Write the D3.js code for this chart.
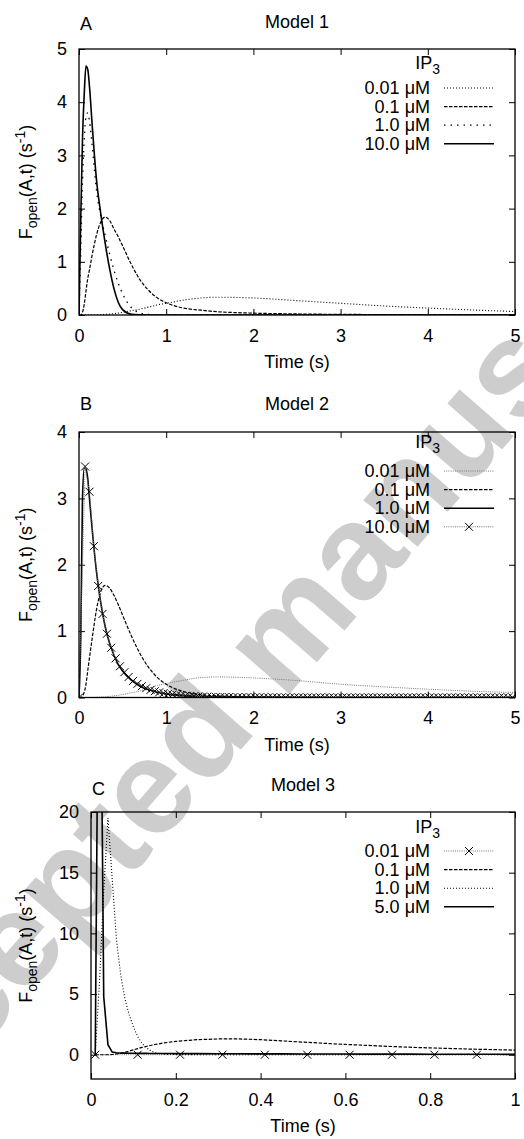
<!DOCTYPE html>
<html>
<head>
<meta charset="utf-8">
<script src="https://cdn.jsdelivr.net/npm/d3@7"></script>
<style>
  body { margin: 0; background: #fff; }
  svg { display: block; font-family: "Liberation Sans", Arial, Helvetica, sans-serif; }
</style>
</head>
<body>
<div id="chart"></div>
<script>
// ---- Data ----
// Model 1 and Model 2 share one time grid (s)
const timeAB = [0, 0.02, 0.04, 0.06, 0.08, 0.1, 0.12, 0.15, 0.2, 0.25, 0.3, 0.35, 0.4, 0.45, 0.5,
    0.6, 0.7, 0.8, 0.9, 1.0, 1.2, 1.4, 1.6, 1.8, 2.0, 2.5, 3.0, 3.5, 4.0, 4.5, 5.0]

// Model 1
const m1_001 = [0, 0, 0, 0, 0, 0, 0, 0, 0.002, 0.005, 0.01, 0.017, 0.025, 0.036, 0.05,
    0.08, 0.11, 0.15, 0.19, 0.22, 0.28, 0.32, 0.335, 0.33, 0.32, 0.27, 0.22, 0.17, 0.13, 0.095, 0.065]
const m1_01 = [0, 0, 0.05, 0.2, 0.45, 0.68, 0.85, 1.12, 1.5, 1.75, 1.84, 1.78, 1.62, 1.47, 1.3,
    0.95, 0.66, 0.46, 0.32, 0.23, 0.13, 0.09, 0.06, 0.045, 0.035, 0.02, 0.012, 0.008, 0.005, 0.003, 0.002]
const m1_1 = [0, 1.2, 2.5, 3.3, 3.72, 3.8, 3.65, 3.2, 2.35, 1.85, 1.5, 1.15, 0.85, 0.6, 0.4,
    0.14, 0.04, 0.01, 0.002, 0, 0, 0, 0, 0, 0, 0, 0, 0, 0, 0, 0]
const m1_10 = [0, 1.8, 3.3, 4.15, 4.68, 4.62, 4.3, 3.6, 2.55, 1.9, 1.35, 0.88, 0.5, 0.24, 0.1,
    0.015, 0.003, 0, 0, 0, 0, 0, 0, 0, 0, 0, 0, 0, 0, 0, 0]

// Model 2
const m2_001 = [0, 0, 0, 0, 0, 0, 0, 0, 0.003, 0.006, 0.01, 0.017, 0.025, 0.034, 0.045,
    0.07, 0.1, 0.14, 0.18, 0.21, 0.26, 0.3, 0.31, 0.305, 0.295, 0.255, 0.2, 0.16, 0.125, 0.095, 0.075]
const m2_01 = [0, 0, 0.02, 0.08, 0.2, 0.4, 0.6, 0.88, 1.32, 1.6, 1.69, 1.65, 1.54, 1.4, 1.24,
    0.93, 0.66, 0.45, 0.3, 0.2, 0.09, 0.042, 0.022, 0.012, 0.007, 0.002, 0, 0, 0, 0, 0]
const m2_1 = [0, 0.9, 3.0, 3.45, 3.45, 3.3, 3.0, 2.55, 1.9, 1.42, 1.07, 0.82, 0.64, 0.5, 0.4,
    0.26, 0.17, 0.115, 0.08, 0.055, 0.028, 0.015, 0.008, 0.005, 0.003, 0.001, 0, 0, 0, 0, 0]
// 10 uM curve is drawn with a cross at every sample
const m2_10_time = [0, 0.07, 0.12, 0.17, 0.22, 0.27, 0.32, 0.37, 0.42, 0.47,
    0.52, 0.57, 0.62, 0.67, 0.72, 0.77, 0.82, 0.87, 0.92, 0.97,
    1.02, 1.07, 1.12, 1.17, 1.22, 1.27, 1.32, 1.37, 1.42, 1.47,
    1.52, 1.57, 1.62, 1.67, 1.72, 1.77, 1.82, 1.87, 1.92, 1.97,
    2.02, 2.07, 2.12, 2.17, 2.22, 2.27, 2.32, 2.37, 2.42, 2.47,
    2.52, 2.57, 2.62, 2.67, 2.72, 2.77, 2.82, 2.87, 2.92, 2.97,
    3.02, 3.07, 3.12, 3.17, 3.22, 3.27, 3.32, 3.37, 3.42, 3.47,
    3.52, 3.57, 3.62, 3.67, 3.72, 3.77, 3.82, 3.87, 3.92, 3.97,
    4.02, 4.07, 4.12, 4.17, 4.22, 4.27, 4.32, 4.37, 4.42, 4.47,
    4.52, 4.57, 4.62, 4.67, 4.72, 4.77, 4.82, 4.87, 4.92, 4.97]
const m2_10 = [0, 3.48, 3.10, 2.28, 1.68, 1.26, 0.96, 0.75, 0.59, 0.47,
    0.38, 0.31, 0.25, 0.205, 0.17, 0.14, 0.115, 0.095, 0.078, 0.065,
    0.054, 0.045, 0.037, 0.031, 0.026, 0.022, 0.018, 0.015, 0.013, 0.011,
    0.009, 0.008, 0.007, 0.006, 0.005, 0.004, 0.004, 0.003, 0.003, 0.002,
    0.002, 0.002, 0.001, 0.001, 0.001, 0.001, 0, 0, 0, 0,
    0, 0, 0, 0, 0, 0, 0, 0, 0, 0,
    0, 0, 0, 0, 0, 0, 0, 0, 0, 0,
    0, 0, 0, 0, 0, 0, 0, 0, 0, 0,
    0, 0, 0, 0, 0, 0, 0, 0, 0, 0,
    0, 0, 0, 0, 0, 0, 0, 0, 0, 0]

// Model 3
const timeC = [0.01, 0.02, 0.03, 0.04, 0.05, 0.06, 0.07, 0.08, 0.09, 0.1, 0.11, 0.12, 0.13, 0.14, 0.15,
    0.16, 0.17, 0.18, 0.19, 0.2, 0.25, 0.3, 0.35, 0.4, 0.45, 0.5, 0.55, 0.6, 0.65, 0.7, 0.75, 0.8,
    0.85, 0.9, 0.95, 1.0]
const m3_01 = [0, 0, 0, 0, 0.02, 0.06, 0.12, 0.2, 0.3, 0.4, 0.5, 0.6, 0.68, 0.76, 0.84,
    0.9, 0.96, 1.01, 1.06, 1.1, 1.24, 1.3, 1.3, 1.24, 1.14, 1.04, 0.94, 0.85, 0.77, 0.69, 0.62, 0.56,
    0.51, 0.46, 0.42, 0.38]
const m3_1 = [0, 6, 13.5, 19.5, 14.5, 9.5, 6.6, 4.6, 3.3, 2.3, 1.5, 0.95, 0.6, 0.35, 0.18,
    0.1, 0.06, 0.03, 0.02, 0.01, 0.005, 0, 0, 0, 0, 0, 0, 0, 0, 0, 0, 0,
    0, 0, 0, 0]
const m3_5 = [0, 45, 4.8, 0.82, 0.22, 0.16, 0.14, 0.13, 0.12, 0.12, 0.11, 0.11, 0.11, 0.1, 0.1,
    0.1, 0.1, 0.1, 0.1, 0.09, 0.09, 0.08, 0.08, 0.07, 0.07, 0.06, 0.06, 0.06, 0.05, 0.05, 0.05, 0.04,
    0.04, 0.04, 0.04, 0.03]
const m3_001_time = [0.01, 0.11, 0.21, 0.31, 0.41, 0.51, 0.61, 0.71, 0.81, 0.91]
const m3_001 = [0, 0, 0, 0, 0, 0, 0, 0, 0, 0]

// tick values
const xTicksAB = [0, 1, 2, 3, 4, 5]
const yTicksA = [0, 1, 2, 3, 4, 5]
const yTicksB = [0, 1, 2, 3, 4]
const xTicksC = [0, 0.2, 0.4, 0.6, 0.8, 1]
const yTicksC = [0, 5, 10, 15, 20]

// ---- Line styles (gnuplot-like) ----
const styles = {
    solid:     { stroke: "#000", width: 1.6, dash: null },
    dashed:    { stroke: "#000", width: 1.2, dash: "3.5,1.5" },
    fineDot:   { stroke: "#000", width: 1.1, dash: "1,2" },
    sparseDot: { stroke: "#000", width: 1.3, dash: "1.5,5" },
    greyDot:   { stroke: "#777", width: 1,   dash: "1,1.2" }
}

const zip = (t, v) => t.map((d, i) => [d, v[i]])

const panels = [
    {
        letter: "A", title: "Model 1",
        box: { l: 79, r: 515, t: 49, b: 315 },
        xDomain: [0, 5], yDomain: [0, 5], xTicks: xTicksAB, yTicks: yTicksA,
        titleY: 28, letterY: 30, ipY: 69, smooth: true,
        series: [
            { label: "0.01 μM", data: zip(timeAB, m1_001), style: "fineDot" },
            { label: "0.1 μM", data: zip(timeAB, m1_01), style: "dashed" },
            { label: "1.0 μM", data: zip(timeAB, m1_1), style: "sparseDot" },
            { label: "10.0 μM", data: zip(timeAB, m1_10), style: "solid" }
        ]
    },
    {
        letter: "B", title: "Model 2",
        box: { l: 79, r: 515, t: 432, b: 697.5 },
        xDomain: [0, 5], yDomain: [0, 4], xTicks: xTicksAB, yTicks: yTicksB,
        titleY: 410, letterY: 410, ipY: 448, smooth: true,
        series: [
            { label: "0.01 μM", data: zip(timeAB, m2_001), style: "greyDot" },
            { label: "0.1 μM", data: zip(timeAB, m2_01), style: "dashed" },
            { label: "1.0 μM", data: zip(timeAB, m2_1), style: "solid" },
            { label: "10.0 μM", data: zip(m2_10_time, m2_10), style: "greyDot", marks: true }
        ]
    },
    {
        letter: "C", title: "Model 3",
        box: { l: 91, r: 515, t: 812, b: 1079 },
        xDomain: [0, 1], yDomain: [-2, 20], xTicks: xTicksC, yTicks: yTicksC,
        titleY: 791, letterY: 795, ipY: 833, smooth: false,
        series: [
            { label: "0.01 μM", data: zip(m3_001_time, m3_001), style: "greyDot", marks: true },
            { label: "0.1 μM", data: zip(timeC, m3_01), style: "dashed" },
            { label: "1.0 μM", data: zip(timeC, m3_1), style: "fineDot" },
            { label: "5.0 μM", data: zip(timeC, m3_5), style: "solid" }
        ]
    }
]

const W = 524, H = 1139
const fontSize = 18

const svg = d3.select("#chart").append("svg")
    .attr("width", W)
    .attr("height", H)

// Watermark behind everything
svg.append("text")
    .attr("transform", "translate(-140,1188) rotate(-49)")
    .attr("font-size", 135)
    .attr("font-weight", "bold")
    .attr("fill", "#cdcdcd")
    .text("Accepted manuscript")

const crossPath = "M-4,-4L4,4M-4,4L4,-4"

function applyStyle(sel, s) {
    sel.attr("fill", "none")
        .attr("stroke", s.stroke)
        .attr("stroke-width", s.width)
        .attr("stroke-dasharray", s.dash)
}

panels.forEach((p, pi) => {
    const { l, r, t, b } = p.box
    const x = d3.scaleLinear().domain(p.xDomain).range([l, r])
    const y = d3.scaleLinear().domain(p.yDomain).range([b, t])

    const g = svg.append("g")

    // clip for curves
    const clipId = "clip" + pi
    g.append("clipPath").attr("id", clipId)
        .append("rect").attr("x", l).attr("y", t).attr("width", r - l).attr("height", b - t)

    // axes: inward ticks on all four sides
    const tickFmt = d => String(d)
    const styleAxis = a => {
        a.select(".domain").remove()
        a.attr("font-size", fontSize).attr("font-family", null)
        a.selectAll("line").attr("stroke", "#000").attr("stroke-width", 1)
        a.selectAll("text").attr("fill", "#000")
    }
    g.append("g").attr("transform", `translate(0,${b})`)
        .call(d3.axisBottom(x).tickValues(p.xTicks).tickFormat(tickFmt).tickSizeInner(-6).tickSizeOuter(0).tickPadding(14))
        .call(styleAxis)
    g.append("g").attr("transform", `translate(0,${t})`)
        .call(d3.axisTop(x).tickValues(p.xTicks).tickFormat("").tickSizeInner(-6).tickSizeOuter(0))
        .call(styleAxis)
    g.append("g").attr("transform", `translate(${l},0)`)
        .call(d3.axisLeft(y).tickValues(p.yTicks).tickFormat(tickFmt).tickSizeInner(-6).tickSizeOuter(0).tickPadding(12))
        .call(styleAxis)
    g.append("g").attr("transform", `translate(${r},0)`)
        .call(d3.axisRight(y).tickValues(p.yTicks).tickFormat("").tickSizeInner(-6).tickSizeOuter(0))
        .call(styleAxis)

    // curves
    const line = d3.line()
        .x(d => x(d[0]))
        .y(d => y(d[1]))
        .curve(p.smooth ? d3.curveMonotoneX : d3.curveLinear)
    const lineLin = d3.line().x(d => x(d[0])).y(d => y(d[1]))

    const plot = g.append("g").attr("clip-path", `url(#${clipId})`)
    p.series.forEach(s => {
        plot.append("path")
            .attr("d", s.marks ? lineLin(s.data) : line(s.data))
            .call(applyStyle, styles[s.style])
        if (s.marks) {
            plot.selectAll(null)
                .data(s.data)
                .enter()
                .append("path")
                .attr("d", crossPath)
                .attr("transform", d => `translate(${x(d[0])},${y(d[1])})`)
                .attr("fill", "none")
                .attr("stroke", "#000")
                .attr("stroke-width", 1)
        }
    })

    // frame
    g.append("rect")
        .attr("x", l).attr("y", t)
        .attr("width", r - l).attr("height", b - t)
        .attr("fill", "none")
        .attr("stroke", "#000")
        .attr("stroke-width", 1.3)

    // titles
    g.append("text")
        .attr("x", (l + r) / 2).attr("y", p.titleY)
        .attr("text-anchor", "middle")
        .attr("font-size", fontSize)
        .text(p.title)
    g.append("text")
        .attr("x", l + 1).attr("y", p.letterY)
        .attr("font-size", fontSize)
        .text(p.letter)

    // x label
    g.append("text")
        .attr("x", (l + r) / 2).attr("y", b + 53)
        .attr("text-anchor", "middle")
        .attr("font-size", fontSize)
        .text("Time (s)")

    // y label: F_open(A,t) (s^-1)
    const yl = g.append("text")
        .attr("transform", `translate(32,${(t + b) / 2}) rotate(-90)`)
        .attr("text-anchor", "middle")
        .attr("font-size", fontSize)
    yl.append("tspan").text("F")
    yl.append("tspan").attr("font-size", 14).attr("dy", 5).text("open")
    yl.append("tspan").attr("dy", -5).text("(A,t) (s")
    yl.append("tspan").attr("font-size", 14).attr("dy", -7).text("-1")
    yl.append("tspan").attr("dy", 7).text(")")

    // legend
    const ip = g.append("text")
        .attr("x", 440).attr("y", p.ipY)
        .attr("text-anchor", "end")
        .attr("font-size", fontSize)
    ip.append("tspan").text("IP")
    ip.append("tspan").attr("font-size", 14).attr("dy", 5).text("3")

    p.series.forEach((s, i) => {
        const ly = t + 39 + i * 18.6
        g.append("text")
            .attr("x", 430).attr("y", ly + 6)
            .attr("text-anchor", "end")
            .attr("font-size", fontSize)
            .text(s.label)
        g.append("line")
            .attr("x1", 444).attr("x2", 494)
            .attr("y1", ly).attr("y2", ly)
            .call(applyStyle, styles[s.style])
        if (s.marks) {
            g.append("path")
                .attr("d", crossPath)
                .attr("transform", `translate(469,${ly})`)
                .attr("fill", "none")
                .attr("stroke", "#000")
                .attr("stroke-width", 1)
        }
    })
})
</script>
</body>
</html>
